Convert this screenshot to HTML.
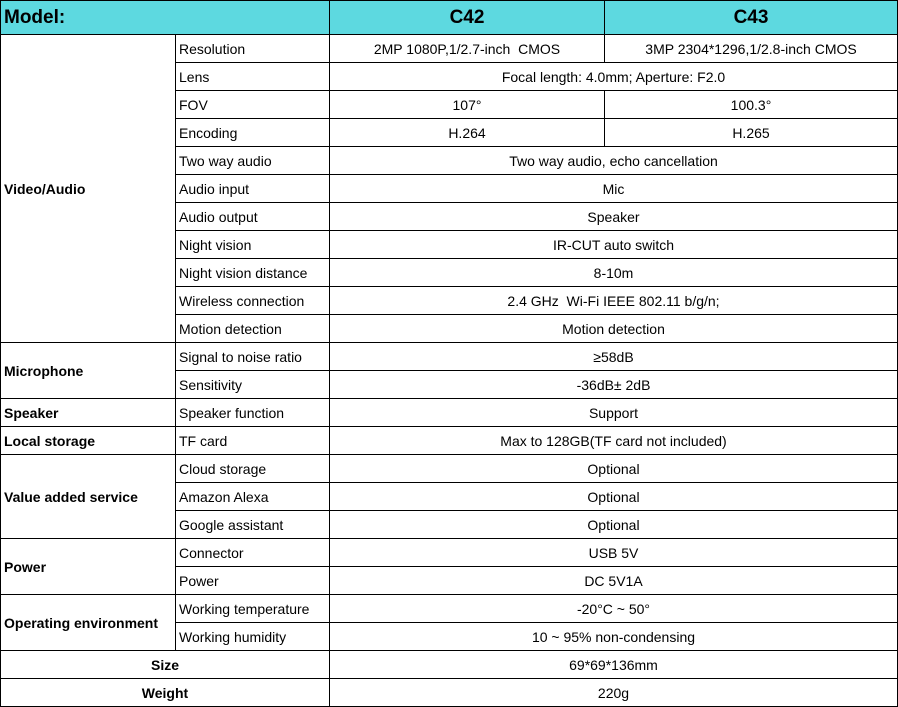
<!DOCTYPE html>
<html><head><meta charset="utf-8"><style>
html,body{margin:0;padding:0;background:#fff;}
table{border-collapse:collapse;table-layout:fixed;width:897px;font-family:"Liberation Sans",Arial,sans-serif;font-size:14px;color:#000;}
td{border:1px solid #000;padding:0 3px;white-space:nowrap;overflow:hidden;}
tr{height:28px;}
tr.h{height:34px;background:#5dd9e0;}
tr.h td{font-weight:bold;font-size:19px;}
.c{text-align:center;}
.b{font-weight:bold;}
</style></head><body>
<table>
<colgroup><col style="width:175px"><col style="width:154px"><col style="width:275px"><col style="width:293px"></colgroup>
<tr class="h"><td colspan="2">Model:</td><td class="c">C42</td><td class="c">C43</td></tr>
<tr><td rowspan="11" class="b">Video/Audio</td><td>Resolution</td><td class="c">2MP 1080P,1/2.7-inch&nbsp; CMOS</td><td class="c">3MP 2304*1296,1/2.8-inch CMOS</td></tr>
<tr><td>Lens</td><td colspan="2" class="c">Focal length: 4.0mm; Aperture: F2.0</td></tr>
<tr><td>FOV</td><td class="c">107°</td><td class="c">100.3°</td></tr>
<tr><td>Encoding</td><td class="c">H.264</td><td class="c">H.265</td></tr>
<tr><td>Two way audio</td><td colspan="2" class="c">Two way audio, echo cancellation</td></tr>
<tr><td>Audio input</td><td colspan="2" class="c">Mic</td></tr>
<tr><td>Audio output</td><td colspan="2" class="c">Speaker</td></tr>
<tr><td>Night vision</td><td colspan="2" class="c">IR-CUT auto switch</td></tr>
<tr><td>Night vision distance</td><td colspan="2" class="c">8-10m</td></tr>
<tr><td>Wireless connection</td><td colspan="2" class="c">2.4 GHz&nbsp; Wi-Fi IEEE 802.11 b/g/n;</td></tr>
<tr><td>Motion detection</td><td colspan="2" class="c">Motion detection</td></tr>
<tr><td rowspan="2" class="b">Microphone</td><td>Signal to noise ratio</td><td colspan="2" class="c">≥58dB</td></tr>
<tr><td>Sensitivity</td><td colspan="2" class="c">-36dB± 2dB</td></tr>
<tr><td class="b">Speaker</td><td>Speaker function</td><td colspan="2" class="c">Support</td></tr>
<tr><td class="b">Local storage</td><td>TF card</td><td colspan="2" class="c">Max to 128GB(TF card not included)</td></tr>
<tr><td rowspan="3" class="b">Value added service</td><td>Cloud storage</td><td colspan="2" class="c">Optional</td></tr>
<tr><td>Amazon Alexa</td><td colspan="2" class="c">Optional</td></tr>
<tr><td>Google assistant</td><td colspan="2" class="c">Optional</td></tr>
<tr><td rowspan="2" class="b">Power</td><td>Connector</td><td colspan="2" class="c">USB 5V</td></tr>
<tr><td>Power</td><td colspan="2" class="c">DC 5V1A</td></tr>
<tr><td rowspan="2" class="b">Operating environment</td><td>Working temperature</td><td colspan="2" class="c">-20°C ~ 50°</td></tr>
<tr><td>Working humidity</td><td colspan="2" class="c">10 ~ 95% non-condensing</td></tr>
<tr><td colspan="2" class="c b">Size</td><td colspan="2" class="c">69*69*136mm</td></tr>
<tr><td colspan="2" class="c b">Weight</td><td colspan="2" class="c">220g</td></tr>
</table>
</body></html>
